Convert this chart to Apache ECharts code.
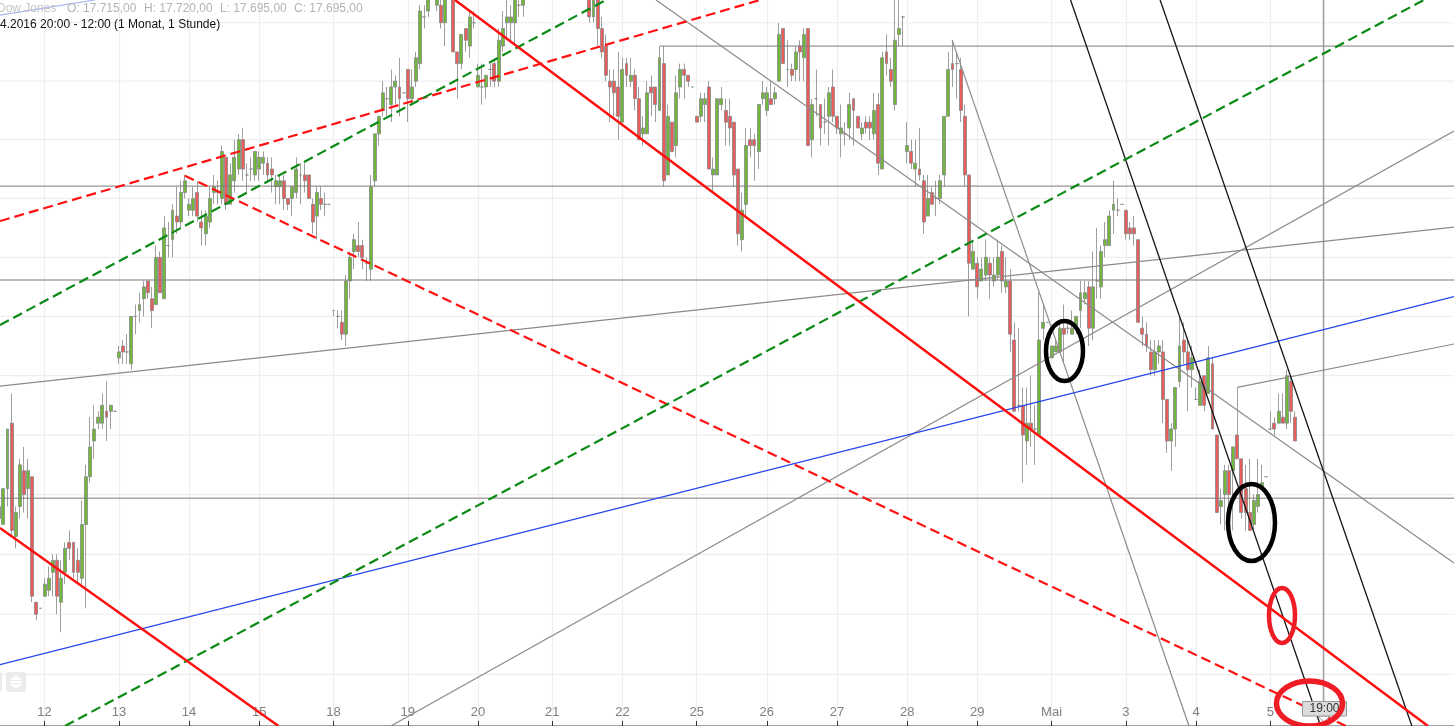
<!DOCTYPE html>
<html><head><meta charset="utf-8">
<style>html,body{margin:0;padding:0;background:#fff;overflow:hidden}#c{width:1454px;height:726px}</style>
<script src="https://cdn.jsdelivr.net/npm/echarts@6/dist/echarts.min.js"></script>
</head><body><div id="c"></div>
<script>
const _ = null;
// rows: open, close, low, high
const apr11 = [[17630,17640,17625,17645],[17625,17655,17625,17655],[17655,17705,17640,17705],[17710,17620,17615,17735],[17615,17635,17605,17640],[17640,17675,17630,17680],[17670,17650,17635,17690],[17655,17670,17630,17680],[17665,17565,17560,17665],[17560,17550,17545,17560],[17555,17555,17555,17555]];
const apr12 = [[17565,17575,17565,17580],[17570,17580,17565,17590],[17585,17595,17565,17600],[17595,17565,17550,17600],[17560,17580,17535,17595],[17585,17605,17575,17610],[17610,17605,17595,17620],[17610,17585,17580,17610],[17595,17585,17575,17605],[17580,17625,17575,17645],[17625,17665,17555,17675],[17665,17690,17660,17715],[17695,17705,17680,17725],[17710,17715,17705,17720],[17710,17725,17705,17735],[17720,17715,17695,17745],[17720,17725,17705,17725],[17720,17720,17720,17720]];
const apr13 = [[17765,17770,17760,17775],[17775,17770,17760,17780],[17770,17770,17760,17785],[17760,17800,17755,17800],[17800,17800,17785,17810],[17805,17810,17795,17820],[17815,17825,17800,17830],[17830,17820,17815,17830],[17815,17805,17790,17825],[17810,17850,17810,17860],[17850,17820,17820,17855],[17815,17875,17815,17885],[17860,17860,17850,17880],[17865,17890,17850,17895],[17885,17880,17870,17910],[17880,17905,17875,17915],[17905,17915,17900,17920]];
const apr14 = [[17890,17895,17885,17900],[17890,17900,17885,17910],[17905,17885,17880,17915],[17880,17875,17860,17890],[17870,17885,17860,17890],[17880,17900,17875,17910],[17905,17910,17895,17920],[17905,17905,17895,17915],[17900,17940,17895,17945],[17935,17895,17890,17935],[17895,17920,17895,17930],[17915,17935,17905,17950],[17925,17950,17920,17955],[17950,17925,17915,17960],[17920,17920,17905,17930],[17925,17925,17915,17935],[17920,17940,17915,17940]];
const apr15 = [[17925,17935,17915,17940],[17930,17935,17920,17940],[17930,17920,17915,17935],[17925,17920,17905,17935],[17910,17915,17895,17920],[17910,17915,17895,17920],[17915,17900,17890,17920],[17900,17895,17890,17900],[17900,17910,17885,17910],[17905,17925,17900,17935],[17920,17920,17895,17930],[17920,17915,17905,17930],[17920,17900,17900,17920],[17895,17880,17870,17900],[17885,17905,17865,17910],[17900,17895,17890,17910],[17895,17895,17885,17905],[17895,17895,17895,17895]];
const apr18 = [[17805,17805,17800,17805],[17800,17800,17790,17805],[17795,17785,17780,17805],[17785,17830,17775,17835],[17830,17850,17815,17855],[17855,17865,17840,17870],[17860,17855,17850,17880],[17860,17850,17840,17865],[17845,17845,17830,17850],[17840,17910,17830,17920],[17915,17955,17910,17955],[17955,17970,17945,17970],[17975,17990,17970,18000],[17985,17985,17970,17995],[17980,17995,17965,18010],[17995,18000,17980,18005],[17995,17985,17970,18020],[17990,17990,17990,17990]];
const apr19 = [[18010,17985,17965,18010],[17985,17995,17980,18010],[18000,18020,17995,18025],[18015,18060,18010,18065],[18055,18055,18045,18065],[18060,18075,18055,18080],_,[18065,18070,18060,18085],[18065,18050,18045,18075],[18050,18075,18030,18085],_,[18075,18025,18025,18080],[18025,18015,17985,18025],[18015,18040,18010,18040],[18045,18035,18025,18045],[18030,18055,18020,18060],[18050,18050,18045,18060]];
const apr20 = [[17995,18005,17995,18015],[17995,17995,17980,18015],[17995,18005,17985,18005],[18010,18010,17995,18015],[18015,18000,17995,18020],[18000,18035,17995,18045],[18030,18045,18025,18060],[18050,18055,18035,18075],[18050,18055,18035,18065],[18050,18075,18030,18085],[18065,18065,18055,18075],[18065,18075,18055,18080],_,_,_,_,_,_];
const apr21 = [_,_,_,_,_,_,_,_,_,[18075,18055,18050,18080],[18055,18075,18050,18080],[18075,18045,18030,18080],[18045,18025,18020,18055],[18030,18005,18000,18040],[18000,17995,17965,18010],[18000,17990,17970,18010],[17995,17970,17950,18025]];
const apr22 = [[17965,18010,17965,18020],[18015,18005,17995,18020],[18000,18005,17995,18020],[18005,17985,17975,18010],[17985,17950,17950,17995],[17955,17960,17945,17970],[17955,17990,17955,18000],[17995,17990,17970,18005],[17995,17980,17965,17995],[17975,18020,17975,18030],[18015,17915,17910,18030],[17920,17970,17920,17980],[17965,17940,17940,17965],[17945,17990,17935,18005],[17995,18010,17985,18015],[18010,18005,17985,18015],[18005,18000,17995,18005],[17995,17995,17995,17995]];
const apr25 = [[17970,17965,17965,17970],[17970,17985,17965,17990],[17980,17985,17965,17990],[17995,17925,17925,18000],[17920,17925,17905,17935],[17920,17985,17920,17985],[17980,17985,17975,17995],[17975,17965,17945,17985],[17970,17960,17945,17985],[17965,17920,17910,17965],[17925,17870,17860,17925],[17865,17890,17855,17905],[17895,17945,17885,17960],[17950,17945,17935,17960],[17950,17945,17915,17955],[17940,17980,17925,17980],[17985,17990,17980,18000]];
const apr26 = [[17975,17990,17970,17995],[17985,17980,17980,18000],[17985,17990,17980,17995],[18000,18040,18000,18050],[18045,18015,18015,18045],[18010,18010,17995,18035],[18010,18005,18000,18015],[18010,18025,18000,18030],[18030,18025,18000,18035],[18020,18040,18000,18045],[18045,17945,17945,18045],[17950,17980,17935,17985],[17985,17985,17970,18010],[17980,17960,17945,17980],[17965,17965,17955,17985],[17970,17990,17945,17995],[17995,17970,17965,18010]];
const apr27 = [[17970,17960,17955,17970],[17955,17960,17935,17980],[17955,17955,17945,17965],[17960,17980,17950,17990],[17985,17975,17945,17985],[17970,17960,17960,17970],[17955,17960,17950,17965],[17965,17960,17955,17970],[17965,17960,17950,17970],[17955,17975,17950,17990],[17980,17930,17920,17990],[17925,18020,17925,18025],[18025,18015,18005,18040],[18010,18000,17995,18020],[17980,18035,17975,18075],[18040,18045,18030,18075],[18055,18055,18030,18055]];
const apr28 = [[17940,17945,17930,17965],[17940,17930,17925,17950],[17925,17930,17910,17950],[17925,17920,17915,17960],[17915,17880,17870,17920],[17885,17900,17885,17920],[17905,17895,17895,17910],[17900,17900,17885,17915],[17900,17915,17895,17920],[17920,17970,17910,17970],[17970,18010,17970,18025],[18015,18010,17995,18035],[18015,18015,17985,18025],[18010,17975,17965,18020],[17970,17920,17910,17980],[17920,17845,17800,17920],[17840,17855,17840,17865]];
const apr29 = [[17845,17825,17815,17850],[17830,17840,17830,17850],[17835,17850,17830,17865],[17845,17835,17815,17850],[17830,17835,17825,17850],[17835,17850,17830,17865],[17855,17830,17820,17860],[17825,17830,17820,17850],[17830,17785,17770,17840],[17780,17720,17720,17795],[17725,17725,17720,17790],[17725,17700,17660,17740],[17695,17710,17675,17740],[17710,17705,17690,17750],[17705,17705,17675,17725],[17700,17780,17700,17820],[17790,17795,17780,17810],[17795,17795,17795,17795]];
const mai2 = [[17765,17775,17765,17775],[17770,17775,17770,17780],[17770,17790,17770,17795],[17790,17785,17760,17810],[17790,17790,17785,17795],[17785,17790,17785,17805],[17790,17800,17785,17800],[17805,17820,17790,17830],[17815,17820,17810,17830],[17825,17790,17775,17830],[17790,17825,17780,17855],[17830,17830,17815,17875],[17825,17855,17815,17860],[17860,17865,17850,17880],[17860,17885,17860,17890],[17890,17895,17870,17915],[17890,17890,17885,17900],[17895,17895,17895,17895]];
const mai3 = [[17890,17870,17865,17890],[17875,17870,17865,17880],[17875,17870,17860,17885],[17865,17795,17795,17865],[17790,17785,17775,17800],[17785,17775,17770,17795],[17770,17755,17750,17780],[17755,17770,17750,17780],[17770,17775,17760,17780],[17770,17730,17710,17780],[17730,17695,17685,17730],[17695,17705,17670,17710],[17705,17740,17690,17740],[17745,17775,17740,17800],[17780,17770,17760,17795],[17770,17755,17720,17780],[17755,17765,17740,17775]];
const mai4 = [[17730,17730,17730,17740],[17725,17745,17725,17755],[17750,17725,17720,17750],[17735,17765,17735,17775],[17760,17705,17705,17765],[17700,17635,17635,17700],[17640,17645,17625,17655],[17650,17670,17620,17675],[17670,17650,17620,17675],[17670,17690,17620,17690],[17700,17680,17680,17740],[17680,17635,17630,17680],[17655,17635,17620,17675],[17635,17620,17620,17680],[17625,17645,17620,17650],[17640,17650,17635,17680],[17655,17660,17655,17675],[17665,17665,17665,17665]];
const mai5 = [[17705,17705,17705,17720],[17710,17705,17700,17715],[17710,17720,17710,17735],[17715,17710,17710,17735],[17710,17750,17705,17755],[17745,17720,17710,17750],[17715,17695,17695,17720]];

const dayIndex = [11,29,46,63,81,99,116,134,151,169,186,203,220,237,255,273,290,308];
const dayLabels = ['12','13','14','15','18','19','20','21','22','25','26','27','28','29','Mai','3','4','5'];
const priceLevels = [17500,17550,17600,17650,17700,17750,17800,17850,17900,17950,18000,18050];

// trend lines as [candle number, price]
const redSolidA = [[0.19,17622],[67.68,17457.1]];
const redSolidB = [[110.44,18069.5],[346.2,17457.1]];
const redDashC = [[0.19,17880.8],[184.35,18069.5]];
const redDashD = [[44.97,17919.4],[326.3,17457.1]];
const greenDashE = [[15.94,17457.1],[345.2,18069.5]];
const greenDashF = [[0.19,17792.7],[147,18069.5]];
const blueMain = [[0.19,17508.1],[352.5,17816.8]];
const blueTop = [[0.19,18056.6],[23.2,18069.5]];
const greyA = [[0.19,17741.2],[352.5,17875.7]];
const greyB = [[94.9,17457.1],[352.5,17957.4]];
const greyC = [[159.15,18069.5],[352.5,17592.7]];
const greyD = [[230.9,18035.1],[288.3,17457.1]];
const greyE = [[300,17740.1],[352.5,17776.7]];
const blackA = [[259.6,18069.5],[320.2,17457.1]];
const blackB = [[281.3,18069.5],[342.3,17457.1]];
const levelTop = [[160.1,18030],[353.5,18030]];
const levelB = [[-0.5,17910.5],[353.5,17910.5]];
const levelC = [[-0.5,17830.8],[353.5,17830.8]];
const levelD = [[-0.5,17647],[353.5,17647]];
const crossHair = [[320.9,17474.5],[320.9,18069.5]];

const candleRows = [].concat(apr11,apr12,apr13,apr14,apr15,apr18,apr19,apr20,apr21,apr22,apr25,apr26,apr27,apr28,apr29,mai2,mai3,mai4,mai5);
const BANDS = 354;
const categories = [];
for (let i=0;i<BANDS;i++){const k=dayIndex.indexOf(i);categories.push(k>=0?dayLabels[k]:'');}
const candleData = candleRows.map(r=>r?r:['-','-','-','-']);
const isDay = i=>dayIndex.indexOf(i)>=0;

function ln(data,color,width,dash,z){
  return {type:'line',xAxisIndex:1,yAxisIndex:0,data:data,showSymbol:false,silent:true,animation:false,z:z||6,
    lineStyle:{color:color,width:width,type:dash?[10,5]:'solid',cap:'butt'}};
}
const series = [];
priceLevels.forEach(p=>series.push(ln([[-0.5,p],[353.5,p]],'#eeeeee',1.2,false,1)));
series.push({type:'candlestick',xAxisIndex:0,yAxisIndex:0,data:candleData,barWidth:3.4,silent:true,animation:false,z:3,large:false,
  itemStyle:{color:'#6fb83a',color0:'#ec5c5a',borderColor:'#868686',borderColor0:'#868686',borderWidth:0.8}});
[levelTop,levelB,levelC,levelD].forEach(d=>series.push(ln(d,'#7f7b78',1,false,4)));
series.push(ln(crossHair,'#a0a0a0',1.6,false,4));
[greyA,greyB,greyC,greyD,greyE].forEach(d=>series.push(ln(d,'#8f8a88',1.2,false,5)));
series.push(ln(blueMain,'#2244ee',1.2));
series.push(ln(blueTop,'#a9b4f2',1.2));
[blackA,blackB].forEach(d=>series.push(ln(d,'#151515',1.3)));
[redDashC,redDashD].forEach(d=>series.push(ln(d,'#ff1111',2.2,true)));
[greenDashE,greenDashF].forEach(d=>series.push(ln(d,'#0a8a14',2.2,true)));
[redSolidA,redSolidB].forEach(d=>series.push(ln(d,'#ff0f0f',2.5)));

const chart = echarts.init(document.getElementById('c'),null,{renderer:'canvas'});
const F = '"Liberation Sans",Arial,sans-serif';
const txt=(x,y,t,c)=>({type:'text',x:x,y:y,silent:true,z:20,style:{text:t,fill:c,font:'12px '+F,textVerticalAlign:'middle'}});
chart.setOption({
  animation:false,backgroundColor:'#fff',
  grid:{left:-2.86,top:0,width:1460.96,height:726,containLabel:false,outerBoundsMode:'none'},
  xAxis:[
    {type:'category',data:categories,boundaryGap:true,position:'bottom',
     axisLine:{show:true,lineStyle:{color:'#808080',width:1.5}},
     axisTick:{show:true,inside:true,length:5,alignWithLabel:true,interval:i=>isDay(i),lineStyle:{color:'#333'}},
     axisLabel:{show:true,inside:true,margin:7,interval:i=>isDay(i),color:'#808080',fontSize:13,fontFamily:'"Liberation Sans",Arial,sans-serif'},
     splitLine:{show:true,alignWithLabel:true,interval:i=>isDay(i),lineStyle:{color:'#eeeeee',width:1.2}}},
    {type:'value',min:-0.5,max:353.5,show:false,splitLine:{show:false}}
  ],
  yAxis:[{type:'log',min:17457.1,max:18069.5,show:false,splitLine:{show:false},axisLine:{show:false}}],
  series:series,
  graphic:{elements:[
    txt(-3,9,'Dow Jones','#c4c4c4'),
    txt(67,9,'O: 17.715,00','#b4b4b4'),
    txt(144,9,'H: 17.720,00','#b4b4b4'),
    txt(220,9,'L: 17.695,00','#b4b4b4'),
    txt(294,9,'C: 17.695,00','#b4b4b4'),
    txt(0,24.5,'4.2016 20:00 - 12:00 (1 Monat, 1 Stunde)','#111'),
    {type:'rect',silent:true,z:20,shape:{x:-12,y:672,width:14,height:20,r:3},style:{fill:'#ebebeb'}},
    {type:'rect',silent:true,z:20,shape:{x:6,y:672,width:20,height:20,r:3},style:{fill:'#ebebeb'}},
    {type:'polygon',silent:true,z:21,shape:{points:[[10,680],[16,675],[22,680]]},style:{fill:'#fff'}},
    {type:'polygon',silent:true,z:21,shape:{points:[[10,684],[16,689],[22,684]]},style:{fill:'#fff'}},
    {type:'rect',silent:true,z:21,shape:{x:10,y:681,width:12,height:2},style:{fill:'#fff'}},
    {type:'polygon',silent:true,z:22,shape:{points:[[1318,716],[1324,722],[1330,716]]},style:{fill:'#fff',stroke:'#999',lineWidth:1}},
    {type:'rect',silent:true,z:22,shape:{x:1302.5,y:701.5,width:44,height:14.5},style:{fill:'#dcdcdc',stroke:'#999',lineWidth:1}},
    {type:'text',silent:true,z:23,x:1324.5,y:709,style:{text:'19:00',fill:'#333',font:'12px '+F,textAlign:'center',textVerticalAlign:'middle'}},
    {type:'ellipse',silent:true,z:30,shape:{cx:1064.5,cy:351,rx:18.5,ry:30},style:{fill:'none',stroke:'#000',lineWidth:4.5}},
    {type:'ellipse',silent:true,z:30,shape:{cx:1251.5,cy:522.5,rx:23.5,ry:38.5},style:{fill:'none',stroke:'#000',lineWidth:4.5}},
    {type:'ellipse',silent:true,z:30,shape:{cx:1282,cy:615.5,rx:13,ry:27.5},style:{fill:'none',stroke:'#ee1c25',lineWidth:4.5}},
    {type:'ellipse',silent:true,z:30,shape:{cx:1309.5,cy:703.5,rx:33,ry:22.5},style:{fill:'none',stroke:'#ee1c25',lineWidth:5.5}}
  ]}
});
</script></body></html>
